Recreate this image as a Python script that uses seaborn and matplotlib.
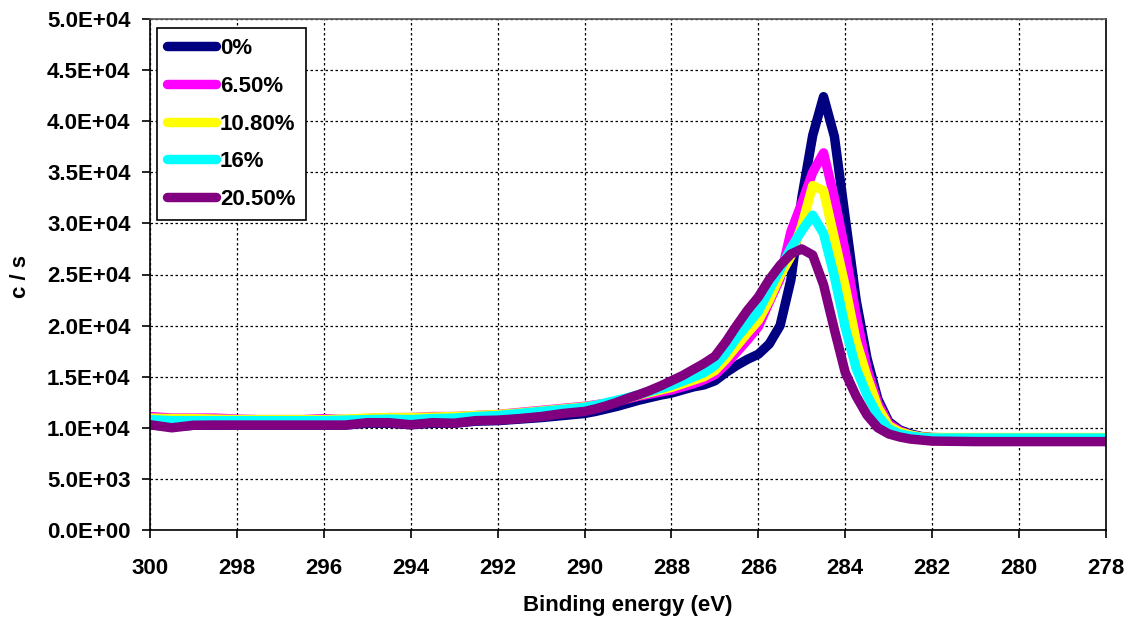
import numpy as np
import pandas as pd
import matplotlib
matplotlib.use("Agg")
import matplotlib.pyplot as plt
from matplotlib.ticker import FuncFormatter
import seaborn as sns

# ---------------- data ----------------
x_left = [300.0, 299.5, 299.0, 298.5, 298.0, 297.5, 297.0, 296.5, 296.0, 295.5,
          295.0, 294.5, 294.0, 293.5, 293.0, 292.5, 292.0, 291.5, 291.0, 290.5]
x_mid = [290.0, 289.75, 289.5, 289.25, 289.0, 288.75, 288.5, 288.25, 288.0, 287.75,
         287.5, 287.25, 287.0, 286.75, 286.5, 286.25, 286.0, 285.75, 285.5, 285.25,
         285.0, 284.75, 284.5, 284.25, 284.0, 283.75, 283.5, 283.25, 283.0, 282.75,
         282.5, 282.25, 282.0]
x_right = [281.0, 280.0, 279.0, 278.0]
binding_energy = x_left + x_mid + x_right

series_labels = ["0%", "6.50%", "10.80%", "16%", "20.50%"]
series_colors = ["#000080", "#FF00FF", "#FFFF00", "#00FFFF", "#800080"]

cps_0 = [10300, 10100, 10250, 10270, 10270, 10270, 10270, 10270, 10270, 10270,
         10450, 10450, 10300, 10450, 10450, 10650, 10700, 10850, 11000, 11200,
         11400, 11600, 11850, 12100, 12400, 12700, 12950, 13200, 13400, 13700,
         14000, 14200, 14600, 15400, 16100, 16700, 17200, 18200, 20000, 24500,
         32500, 38600, 42400, 38500, 30500, 22500, 16800, 12800, 10600, 9800,
         9400, 9150, 9050,
         8950, 8950, 8950, 8950]
cps_65 = [11100, 10950, 10950, 10950, 10850, 10800, 10800, 10800, 10900, 10800,
          10900, 11000, 11000, 11100, 11100, 11200, 11300, 11500, 11700, 11900,
          12100, 12250, 12400, 12600, 12850, 13100, 13300, 13500, 13700, 14000,
          14300, 14700, 15200, 16200, 17400, 18600, 19900, 22300, 24600, 29200,
          32000, 35000, 36900, 32500, 27200, 21000, 15800, 12400, 10400, 9700,
          9300, 9100, 9000,
          9000, 9000, 9000, 9000]
cps_108 = [10950, 10900, 10900, 10850, 10800, 10800, 10800, 10800, 10800, 10850,
           10950, 11000, 11000, 11050, 11100, 11200, 11300, 11450, 11650, 11850,
           12050, 12200, 12400, 12650, 12900, 13200, 13450, 13700, 13950, 14300,
           14650, 15000, 15600, 16700, 18000, 19300, 20500, 22500, 24900, 26800,
           29800, 33700, 33200, 28500, 23800, 18500, 15000, 12000, 10200, 9600,
           9300, 9100, 9050,
           9050, 9050, 9050, 9050]
cps_16 = [10800, 10700, 10700, 10700, 10700, 10700, 10700, 10700, 10700, 10750,
          10800, 10850, 10800, 10900, 10950, 11100, 11200, 11400, 11600, 11800,
          12000, 12200, 12450, 12700, 12950, 13250, 13550, 13850, 14150, 14550,
          14950, 15400, 16100, 17300, 18800, 20100, 21400, 23500, 25500, 27600,
          29300, 30800, 29000, 24800, 19800, 15800, 13200, 11200, 9900, 9400,
          9200, 9050, 9000,
          9000, 9000, 9000, 9000]
cps_205 = [10300, 10000, 10250, 10270, 10270, 10270, 10270, 10270, 10270, 10270,
           10500, 10500, 10300, 10500, 10450, 10700, 10750, 10900, 11100, 11400,
           11600, 11850, 12150, 12500, 12900, 13250, 13650, 14100, 14600, 15100,
           15700, 16300, 17000, 18400, 20000, 21500, 22800, 24500, 25900, 27000,
           27500, 26900, 24000, 19600, 15400, 13100, 11250, 10000, 9400, 9100,
           8900, 8800, 8700,
           8650, 8650, 8650, 8650]

series_values = [cps_0, cps_65, cps_108, cps_16, cps_205]

y_ticks = [0, 5000, 10000, 15000, 20000, 25000, 30000, 35000, 40000, 45000, 50000]
x_ticks = [300, 298, 296, 294, 292, 290, 288, 286, 284, 282, 280, 278]

# ---------------- build table ----------------
frames = []
for lab, vals in zip(series_labels, series_values):
    frames.append(pd.DataFrame({"eV": binding_energy, "cps": vals, "series": lab}))
df = pd.concat(frames, ignore_index=True)

# ---------------- style ----------------
sns.set_theme(style="white")
plt.rcParams["font.family"] = ["Liberation Sans", "DejaVu Sans"]
plt.rcParams["font.weight"] = "bold"
plt.rcParams["text.color"] = "black"
plt.rcParams["axes.labelcolor"] = "black"
plt.rcParams["xtick.color"] = "black"
plt.rcParams["ytick.color"] = "black"

FS = 16

fig = plt.figure(figsize=(11.31, 6.23), dpi=100)
ax = fig.add_axes([150 / 1131, 1 - 530 / 623, 956 / 1131, 511 / 623])

sns.lineplot(data=df, x="eV", y="cps", hue="series", hue_order=series_labels,
             palette=series_colors, linewidth=6.8, sort=False, estimator=None,
             ax=ax, legend=True)
for ln in ax.get_lines():
    ln.set_solid_capstyle("round")
    ln.set_solid_joinstyle("round")

ax.set_xlim(300, 278)
ax.set_ylim(0, 50000)
ax.set_xticks(x_ticks)
ax.set_yticks(y_ticks)
ax.yaxis.set_major_formatter(FuncFormatter(lambda v, p: f"{v:.1E}"))
ax.xaxis.set_major_formatter(FuncFormatter(lambda v, p: f"{v:.0f}"))

ax.set_axisbelow(True)
ax.grid(True, color="black", linestyle=(0, (2.0, 2.0)), linewidth=0.9)

for s in ax.spines.values():
    s.set_visible(True)
    s.set_color("black")
    s.set_linewidth(1.2)
ax.spines["top"].set_color("#555555")

ax.tick_params(axis="both", which="major", direction="out", length=6,
               width=1.2, color="black", labelcolor="black", labelsize=FS,
               left=True, bottom=True)
ax.tick_params(axis="x", pad=14)
ax.tick_params(axis="y", pad=8)
for t in ax.get_xticklabels() + ax.get_yticklabels():
    t.set_fontweight("bold")

ax.set_xlabel("Binding energy (eV)", fontsize=FS, fontweight="bold", va="center",
              color="black")
ax.xaxis.set_label_coords(0.5, (530 - 606) / 511)
ax.set_ylabel("c / s", fontsize=FS, fontweight="bold", va="center", color="black")
ax.yaxis.set_label_coords((20 - 150) / 956, 0.497)

handles, labels = ax.get_legend_handles_labels()
leg = ax.legend(handles, labels, loc="upper left", bbox_to_anchor=(0.007, 0.982),
                borderaxespad=0, frameon=True, fancybox=False, edgecolor="black",
                framealpha=1, prop={"size": FS, "weight": "bold"},
                handlelength=2.2, handletextpad=0.2, labelspacing=0.75,
                borderpad=0.45)
leg.get_frame().set_linewidth(1.2)
for ln in leg.get_lines():
    ln.set_linewidth(6.8)
    ln.set_solid_capstyle("round")
for t in leg.get_texts():
    t.set_color("black")

fig.savefig("out.png", dpi=100)
